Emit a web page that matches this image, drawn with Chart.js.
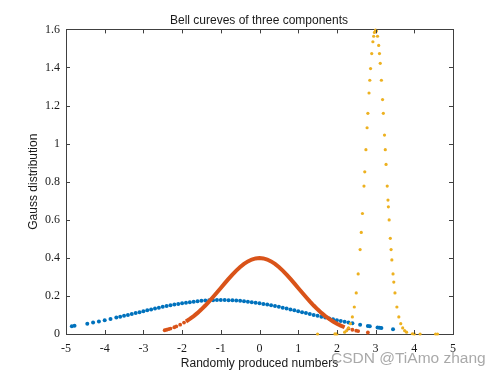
<!DOCTYPE html>
<html>
<head>
<meta charset="utf-8">
<script src="https://cdn.jsdelivr.net/npm/chart.js@4/dist/chart.umd.min.js"></script>
<style>
  body { margin: 0; background: #fff; }
  canvas { display: block; }
</style>
</head>
<body>
<canvas id="c" width="501" height="376"></canvas>
<script>
// values
const blueX = [-4.85, -4.78, -4.45, -4.3, -4.15, -4.0, -3.85, -3.7, -3.6, -3.5, -3.4, -3.3, -3.2, -3.1, -3.0,
  -2.9, -2.8, -2.7, -2.6, -2.5, -2.4, -2.3, -2.2, -2.1, -2.0, -1.9, -1.8, -1.7, -1.6, -1.5, -1.4, -1.3,
  -1.2, -1.1, -1.0, -0.9, -0.8, -0.7, -0.6, -0.5, -0.4, -0.3, -0.2, -0.1, 0.0, 0.1, 0.2, 0.3, 0.4, 0.5,
  0.6, 0.7, 0.8, 0.9, 1.0, 1.1, 1.2, 1.3, 1.4, 1.5, 1.6, 1.7, 1.8, 1.9, 2.0, 2.1, 2.2, 2.3, 2.4, 2.6,
  2.8, 2.85, 3.05, 3.1, 3.15, 3.45];
const blueY = [0.0405, 0.0427, 0.0543, 0.0600, 0.0662, 0.0725, 0.0792, 0.0861, 0.0908, 0.0955, 0.1003, 0.1051, 0.1100, 0.1148, 0.1196,
  0.1243, 0.1290, 0.1336, 0.1381, 0.1425, 0.1466, 0.1507, 0.1545, 0.1581, 0.1614, 0.1645, 0.1673, 0.1699, 0.1721, 0.1740, 0.1756, 0.1768,
  0.1777, 0.1782, 0.1784, 0.1782, 0.1777, 0.1768, 0.1756, 0.1740, 0.1721, 0.1699, 0.1673, 0.1645, 0.1614, 0.1581, 0.1545, 0.1507, 0.1466, 0.1425,
  0.1381, 0.1336, 0.1290, 0.1243, 0.1196, 0.1148, 0.1100, 0.1051, 0.1003, 0.0955, 0.0908, 0.0861, 0.0815, 0.0769, 0.0725, 0.0682, 0.0641, 0.0600, 0.0561, 0.0488,
  0.0421, 0.0405, 0.0346, 0.0332, 0.0319, 0.0246];

const orangeTailX = [-2.45, -2.4, -2.35, -2.3, -2.2, -2.15, -2.05, -1.95, 2.3, 2.4, 2.5, 2.55, 2.8];
const orangeTailY = [0.0198, 0.0224, 0.0252, 0.0283, 0.0355, 0.0396, 0.0488, 0.0598, 0.0283, 0.0224, 0.0175, 0.0154, 0.0079];
const orangeX = [-1.9, -1.8, -1.7, -1.6, -1.5, -1.4, -1.3, -1.2, -1.1, -1.0, -0.9, -0.8, -0.7, -0.6, -0.5, -0.4, -0.3, -0.2, -0.1, 0.0,
  0.1, 0.2, 0.3, 0.4, 0.5, 0.6, 0.7, 0.8, 0.9, 1.0, 1.1, 1.2, 1.3, 1.4, 1.5, 1.6, 1.7, 1.8, 1.9, 2.0, 2.1, 2.2];
const orangeY = [0.0656, 0.0790, 0.0940, 0.1109, 0.1295, 0.1497, 0.1714, 0.1942, 0.2179, 0.2420, 0.2661, 0.2897, 0.3123, 0.3332, 0.3521, 0.3683, 0.3814, 0.3910, 0.3970, 0.3989,
  0.3970, 0.3910, 0.3814, 0.3683, 0.3521, 0.3332, 0.3123, 0.2897, 0.2661, 0.2420, 0.2179, 0.1942, 0.1714, 0.1497, 0.1295, 0.1109, 0.0940, 0.0790, 0.0656, 0.0540, 0.0440, 0.0355];

const yellowX = [1.5, 1.95, 2.0, 2.2, 2.25, 2.3, 2.35, 2.4, 2.45, 2.5, 2.55, 2.6, 2.63, 2.66, 2.7, 2.72, 2.75, 2.78, 2.8, 2.83, 2.85,
  2.87, 2.9, 2.93, 2.95, 2.97, 3.0, 3.02, 3.05, 3.08, 3.1, 3.12, 3.15, 3.18, 3.2, 3.23, 3.25, 3.27, 3.3, 3.32, 3.33, 3.35, 3.38,
  3.4, 3.42, 3.45, 3.47, 3.5, 3.55, 3.6, 3.65, 3.7, 3.75, 3.8, 3.95, 4.0, 4.15, 4.55, 4.6];
const yellowY = [0.0, 0.0002, 0.0005, 0.0095, 0.0177, 0.0317, 0.0543, 0.0896, 0.1419, 0.216, 0.3158, 0.4437, 0.5338, 0.633, 0.777, 0.852, 0.968, 1.0835, 1.159, 1.266, 1.333,
  1.394, 1.473, 1.535, 1.564, 1.584, 1.596, 1.591, 1.564, 1.516, 1.473, 1.422, 1.333, 1.2315, 1.159, 1.045, 0.968, 0.8906, 0.777, 0.7034, 0.668, 0.599, 0.5027,
  0.4437, 0.389, 0.3158, 0.2726, 0.216, 0.1419, 0.0896, 0.0543, 0.0317, 0.0177, 0.0095, 0.0012, 0.0005, 0.0, 0.0, 0.0];

const xTicks = [-5, -4, -3, -2, -1, 0, 1, 2, 3, 4, 5];
const yTicks = [0, 0.2, 0.4, 0.6, 0.8, 1, 1.2, 1.4, 1.6];

const COLORS = { blue: '#0072BD', orange: '#D95319', yellow: '#EDB120', axis: '#404040', text: '#1a1a1a' };
const SANS = '"Liberation Sans", Arial, sans-serif';
const SERIF = '"Liberation Serif", "Times New Roman", serif';
const pts = (xs, ys) => xs.map((x, i) => ({ x, y: ys[i] }));

// MATLAB style inward ticks on all four sides + watermark
const boxTicks = {
  id: 'boxTicks',
  afterDraw(chart) {
    const { ctx, chartArea: a, scales } = chart;
    ctx.save();
    ctx.strokeStyle = COLORS.axis;
    ctx.lineWidth = 1;
    ctx.beginPath();
    xTicks.forEach(v => {
      const px = Math.round(scales.x.getPixelForValue(v)) + 0.5;
      ctx.moveTo(px, a.bottom); ctx.lineTo(px, a.bottom - 4);
      ctx.moveTo(px, a.top); ctx.lineTo(px, a.top + 4);
    });
    yTicks.forEach(v => {
      const py = Math.round(scales.y.getPixelForValue(v)) + 0.5;
      ctx.moveTo(a.left, py); ctx.lineTo(a.left + 4, py);
      ctx.moveTo(a.right, py); ctx.lineTo(a.right - 4, py);
    });
    ctx.stroke();

    ctx.fillStyle = 'rgba(140,140,140,0.75)';
    ctx.font = '15.5px ' + SANS;
    ctx.textBaseline = 'alphabetic';
    ctx.fillText('CSDN @TiAmo zhang', 331, 363);
    ctx.restore();
  }
};

new Chart(document.getElementById('c'), {
  type: 'scatter',
  data: {
    datasets: [
      { label: 'c1', data: pts(blueX, blueY), backgroundColor: COLORS.blue, borderWidth: 0, pointRadius: 2, order: 3, clip: false },
      { label: 'c2', data: pts(orangeX, orangeY), borderColor: COLORS.orange, backgroundColor: COLORS.orange,
        showLine: true, borderWidth: 4, pointRadius: 0, order: 2, clip: false },
      { label: 'c2 tails', data: pts(orangeTailX, orangeTailY), backgroundColor: COLORS.orange, borderWidth: 0, pointRadius: 1.9, order: 2, clip: false },
      { label: 'c3', data: pts(yellowX, yellowY), backgroundColor: COLORS.yellow, borderWidth: 0, pointRadius: 1.6, order: 1, clip: false }
    ]
  },
  options: {
    responsive: false,
    animation: false,
    layout: { padding: { left: 17, right: 0, top: 0, bottom: 0 } },
    plugins: {
      legend: { display: false },
      tooltip: { enabled: false },
      title: {
        display: true,
        text: 'Bell cureves of three components',
        color: COLORS.text,
        font: { family: SANS, size: 12, weight: 'normal', lineHeight: 1.2 },
        padding: { top: 13, bottom: 2 }
      }
    },
    scales: {
      x: {
        type: 'linear', position: 'bottom', min: -5, max: 5,
        afterFit: s => { s.height = 42; },
        afterBuildTicks: s => { s.ticks = xTicks.map(v => ({ value: v })); },
        grid: { display: false, drawTicks: false },
        border: { display: true, color: COLORS.axis, width: 1 },
        ticks: { color: COLORS.text, padding: 8, maxRotation: 0, autoSkip: false, font: { family: SERIF, size: 12 } },
        title: { display: true, text: 'Randomly produced numbers', color: COLORS.text,
          font: { family: SANS, size: 12, lineHeight: 1.2 }, padding: { top: 0, bottom: 5 } }
      },
      y: {
        type: 'linear', position: 'left', min: 0, max: 1.6,
        afterFit: s => { s.width = 49; },
        afterBuildTicks: s => { s.ticks = yTicks.map(v => ({ value: v })); },
        grid: { display: false, drawTicks: false },
        border: { display: true, color: COLORS.axis, width: 1 },
        ticks: { color: COLORS.text, padding: 6, autoSkip: false,
          callback: v => String(Number(v.toFixed(1))), font: { family: SERIF, size: 12 } },
        title: { display: true, text: 'Gauss distribution', color: COLORS.text,
          font: { family: SANS, size: 12, lineHeight: 1.2 }, padding: { top: 9, bottom: 0 } }
      },
      x2: {
        type: 'linear', position: 'top', min: -5, max: 5,
        afterFit: s => { s.height = 0; },
        grid: { display: false, drawTicks: false },
        border: { display: true, color: COLORS.axis, width: 1 },
        ticks: { display: false }
      },
      y2: {
        type: 'linear', position: 'right', min: 0, max: 1.6,
        afterFit: s => { s.width = 48; },
        grid: { display: false, drawTicks: false },
        border: { display: true, color: COLORS.axis, width: 1 },
        ticks: { display: false }
      }
    }
  },
  plugins: [boxTicks]
});
</script>
</body>
</html>
